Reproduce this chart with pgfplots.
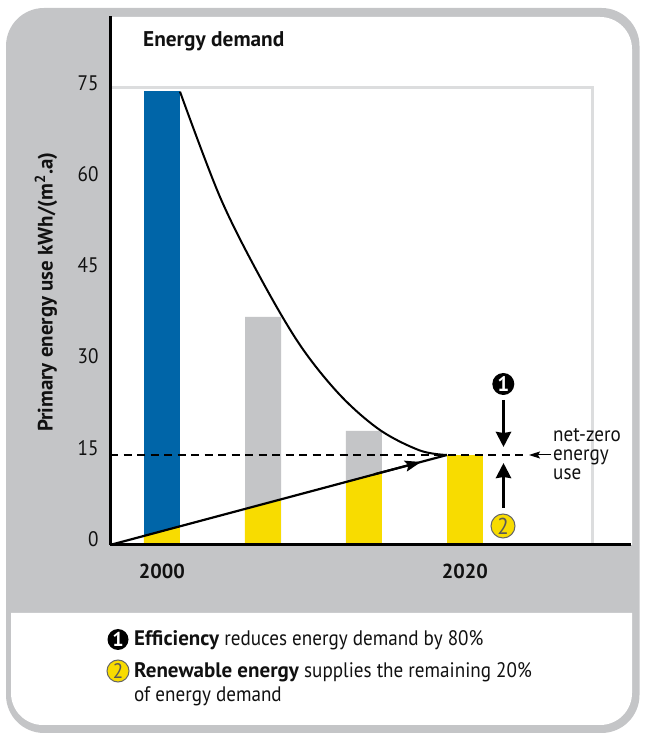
\documentclass[border=0pt]{standalone}
\usepackage{fontspec}
\setmainfont[FakeStretch=0.91,BoldFont={PT Sans Bold},BoldFeatures={FakeStretch=1}]{PT Sans}
\usepackage{pgfplots}
\pgfplotsset{compat=1.18}
\usetikzlibrary{arrows.meta}
\definecolor{framegray}{HTML}{C4C5C7}
\definecolor{rulegray}{HTML}{DCDDDE}
\definecolor{barblue}{HTML}{0065A8}
\definecolor{baryellow}{HTML}{F8DC00}
\definecolor{txt}{HTML}{111111}
\begin{document}
\begin{tikzpicture}[x=1pt,y=1pt,color=black]
\path[use as bounding box] (0,0) rectangle (646,739);
% frame
\fill[framegray,rounded corners=38pt] (6,6) rectangle (639.5,731);
\fill[white] (111,722) -- (600,722) arc[start angle=90,end angle=0,radius=32] -- (632,194) -- (111,194) -- cycle;
\fill[white] (11,126) -- (632,126) -- (632,46) arc[start angle=0,end angle=-90,radius=32] -- (43,14) arc[start angle=270,end angle=180,radius=32] -- cycle;
\begin{axis}[
  at={(110pt,194pt)},anchor=origin,scale only axis,
  width=521pt,height=529pt,
  xmin=1996.57,xmax=2030.96,ymin=0,ymax=87,
  axis x line=bottom,axis y line=left,
  axis line style={-,line width=3pt,black},
  axis on top,
  major tick length=0pt,
  xtick={2000,2020},xticklabels={2000,2020},
  ytick={0,15,30,45,60,75},yticklabels={0,15,30,45,60,75},
  xticklabel style={font=\fontsize{20.3}{20.3}\selectfont\bfseries,text=txt,yshift=-15pt},
  yticklabel style={font=\fontsize{21}{21}\selectfont,text=txt,yshift=6pt,xshift=-8pt},
  ylabel={Primary energy use kWh/(m\textsuperscript{2}.a)},
  every axis y label/.style={at={(axis description cs:-0.1228,0.478)},rotate=90,anchor=center,font=\fontsize{20.9}{20.9}\selectfont\bfseries,text=txt},
]
% bars
\addplot[ybar,bar width=36pt,bar shift=0pt,fill=barblue,draw=none] coordinates {(2000,74.7)};
\addplot[ybar,bar width=36pt,bar shift=0pt,fill=framegray,draw=none] coordinates {(2006.67,37.5) (2013.33,18.75)};
\addplot[fill=baryellow,draw=none] coordinates {(1998.81,1.45) (2001.19,3.0)} \closedcycle;
\addplot[fill=baryellow,draw=none] coordinates {(2005.48,5.93) (2007.85,7.51)} \closedcycle;
\addplot[fill=baryellow,draw=none] coordinates {(2012.15,10.36) (2014.52,11.9)} \closedcycle;
\addplot[fill=baryellow,draw=none] coordinates {(2018.81,14.8) (2021.19,14.8)} \closedcycle;
% reference frame
\addplot[rulegray,line width=3pt] coordinates {(1996.57,75.3) (2028.4,75.3) (2028.4,0)};
% net-zero level
\addplot[black,line width=1.3pt,dash pattern=on 8pt off 5.5pt] coordinates {(1996.57,14.8) (2023.9,14.8)};
% efficiency curve
\addplot[black,line width=2pt,smooth,tension=0.55] coordinates {
(2001.19,74.56) (2003.83,57.24) (2006.47,44.08) (2009.11,32.89) (2011.75,24.67) (2014.39,18.91) (2017.03,15.54) (2018.81,14.8)};
% renewable line
\addplot[black,line width=2.2pt] coordinates {(1996.57,0) (2018.81,14.8)};
\addplot[black,line width=2.2pt,-{Stealth[length=16pt,width=11pt,inset=3pt]}] coordinates {(2014,11.62) (2017.1,13.65)};
\end{axis}
% title and annotations
\node[anchor=base west,inner sep=0,font=\fontsize{21.3}{21.3}\selectfont\bfseries,text=txt] at (143,692) {Energy demand};
\draw[line width=3.3pt,-{Stealth[length=15pt,width=15pt,inset=1pt]}] (503.5,339) -- (503.5,292);
\draw[line width=3.3pt,-{Stealth[length=15pt,width=15pt,inset=1pt]}] (503.5,231) -- (503.5,276);
\draw[line width=1pt,-{Stealth[length=11pt,width=7pt,inset=2pt]}] (551,284) -- (529,284);
\node[circle,fill=black,minimum size=22pt,inner sep=0,text=white,font=\fontsize{21}{21}\selectfont\bfseries] at (503.3,355) {1};
\node[circle,fill=baryellow,draw=black!60,line width=1pt,minimum size=24pt,inner sep=0,text=black!65,font=\fontsize{23}{23}\selectfont] at (503,213) {2};
\begin{scope}[every node/.style={anchor=base west,inner sep=0,text=txt,font=\fontsize{21}{21}\selectfont}]
\node at (553,297) {net-zero};
\node at (553,278) {energy};
\node at (553,259) {use};
\node at (134,93) {\textbf{Efficiency} reduces energy demand by 80\%};
\node at (134,61) {\textbf{Renewable energy} supplies the remaining 20\%};
\node at (134,37.5) {of energy demand};
\end{scope}
\node[circle,fill=black,minimum size=21pt,inner sep=0,text=white,font=\fontsize{20}{20}\selectfont\bfseries] at (118,99.5) {1};
\node[circle,fill=baryellow,draw=black!60,line width=1pt,minimum size=22pt,inner sep=0,text=black!65,font=\fontsize{21}{21}\selectfont] at (118,68) {2};
\end{tikzpicture}
\end{document}
